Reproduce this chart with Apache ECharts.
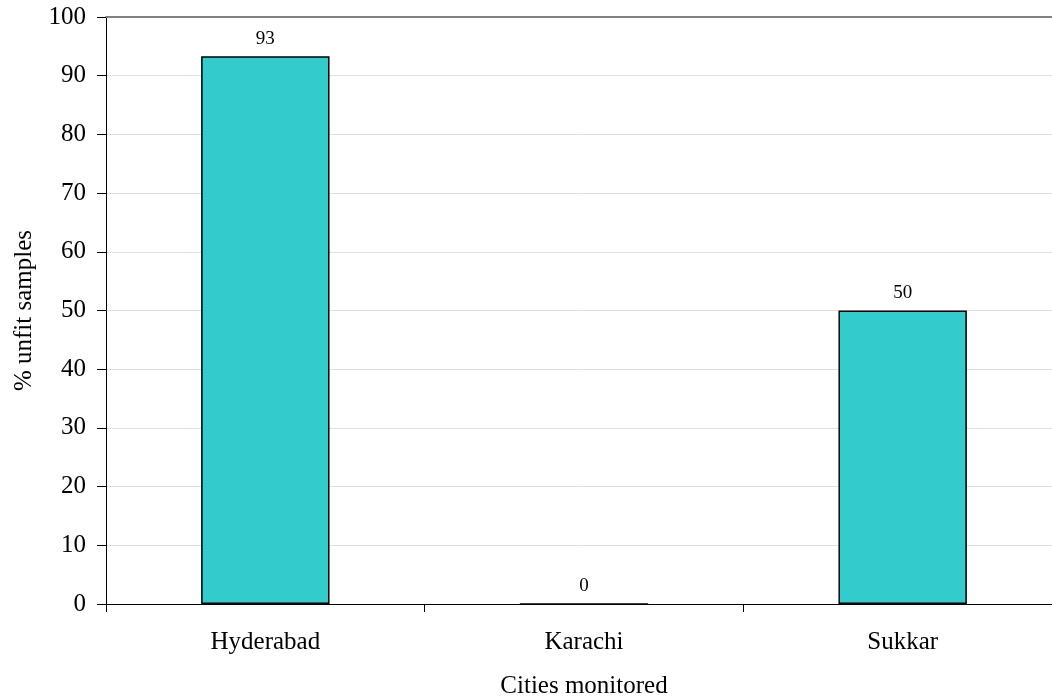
<!DOCTYPE html>
<html><head><meta charset="utf-8">
<script src="https://cdn.jsdelivr.net/npm/echarts@6/dist/echarts.min.js"></script>
<style>html,body{margin:0;padding:0;background:#fff}#c{width:1052px;height:697px}</style>
</head><body><div id="c"></div>
<script>
var categories = ['Hyderabad', 'Karachi', 'Sukkar'];
var unfitPercent = [93.3, 0, 50];
var yTicks = { min: 0, max: 100, interval: 10 };

var font = '"Liberation Serif", "Times New Roman", serif';
var chart = echarts.init(document.getElementById('c'));
chart.setOption({
  animation: false,
  backgroundColor: '#fff',
  grid: { left: 106, top: 17, width: 956, bottom: 93, outerBoundsMode: 'none', containLabel: false },
  xAxis: [{
    type: 'category', data: categories,
    name: 'Cities monitored', nameLocation: 'middle', nameGap: 70,
    nameTextStyle: { fontFamily: font, fontSize: 25, color: '#000' },
    axisLine: { lineStyle: { color: '#000', width: 1 } },
    axisTick: { show: true, length: 8, lineStyle: { color: '#000' } },
    axisLabel: { fontFamily: font, fontSize: 25, color: '#000', margin: 26 }
  }, {
    type: 'category', data: categories, position: 'top',
    axisLine: { lineStyle: { color: '#808080', width: 2 } },
    axisTick: { show: false }, axisLabel: { show: false }
  }],
  yAxis: {
    type: 'value', min: yTicks.min, max: yTicks.max, interval: yTicks.interval,
    name: '% unfit samples', nameLocation: 'middle', nameGap: 69, nameRotate: 90,
    nameTextStyle: { fontFamily: font, fontSize: 25, color: '#000' },
    axisLine: { show: true, lineStyle: { color: '#000', width: 1 } },
    axisTick: { show: true, length: 9, lineStyle: { color: '#000' } },
    axisLabel: { fontFamily: font, fontSize: 25, color: '#000', margin: 20 },
    splitLine: { lineStyle: { color: '#e0e0e0', width: 1 } }
  },
  series: [{
    type: 'bar', data: unfitPercent, barWidth: '40.3%',
    itemStyle: { color: '#33CCCC', borderColor: '#000', borderWidth: 1.5 },
    label: { show: true, position: 'top', distance: 8, fontFamily: font, fontSize: 19, color: '#000',
      formatter: function (p) { return Math.round(p.value); } }
  }]
});
</script></body></html>
